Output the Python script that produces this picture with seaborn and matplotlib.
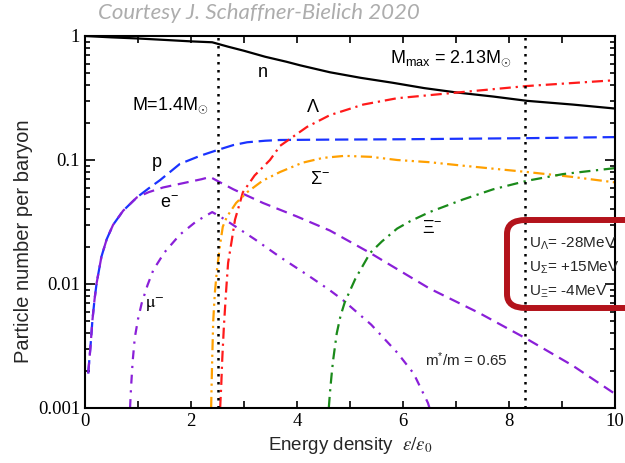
import numpy as np
import pandas as pd
import matplotlib
matplotlib.use("Agg")
import matplotlib.pyplot as plt
from matplotlib.patches import FancyBboxPatch
import seaborn as sns

# ---------------- data ----------------
n_x = [0, 0.5, 1, 1.5, 2, 2.4, 2.7, 3.0, 3.4, 3.8, 4.06, 4.62, 5.2, 5.8, 6.4, 7.02, 7.7, 8.34, 9.2, 10]
n_y = [1.0, 0.975, 0.955, 0.93, 0.905, 0.89, 0.82, 0.76, 0.68, 0.62, 0.58, 0.51, 0.46, 0.42, 0.38, 0.35, 0.325, 0.30, 0.28, 0.26]

p_x = [0.06, 0.1, 0.14, 0.18, 0.22, 0.31, 0.41, 0.53, 0.72, 0.98, 1.2, 1.42, 1.79, 2.17, 2.49, 2.8, 3.06, 3.4, 3.68, 4.62, 6.0, 8.34, 10]
p_y = [0.0019, 0.003, 0.0051, 0.0075, 0.0102, 0.0166, 0.023, 0.03, 0.039, 0.05, 0.059, 0.069, 0.093, 0.108, 0.12, 0.132, 0.139, 0.143, 0.145, 0.146, 0.147, 0.15, 0.153]

e_x = [0.06, 0.1, 0.14, 0.18, 0.22, 0.31, 0.41, 0.53, 0.72, 0.98, 1.2, 1.47, 1.92, 2.2, 2.36, 2.55, 2.8, 3.36, 4.0, 4.62, 5.38, 6.5, 7.45, 8.34, 9.2, 10]
e_y = [0.0019, 0.003, 0.0051, 0.0075, 0.0102, 0.0166, 0.023, 0.03, 0.039, 0.05, 0.055, 0.06, 0.066, 0.07, 0.073, 0.066, 0.058, 0.045, 0.035, 0.027, 0.0178, 0.0092, 0.0058, 0.0036, 0.0022, 0.0013]

mu_x = [0.85, 0.87, 0.9, 0.94, 1.0, 1.07, 1.18, 1.29, 1.5, 1.79, 2.1, 2.4, 2.55, 2.74, 3.2, 3.68, 4.2, 4.62, 4.87, 5.4, 5.89, 6.2, 6.47, 6.5]
mu_y = [0.001, 0.0015, 0.0024, 0.0037, 0.0052, 0.007, 0.0098, 0.013, 0.018, 0.025, 0.032, 0.038, 0.035, 0.031, 0.023, 0.0165, 0.0118, 0.0089, 0.0074, 0.0047, 0.0028, 0.0019, 0.0011, 0.001]

lam_x = [2.55, 2.57, 2.59, 2.62, 2.66, 2.7, 2.77, 2.83, 2.98, 3.2, 3.49, 3.68, 4.19, 4.62, 5.25, 5.89, 7.02, 8.34, 10]
lam_y = [0.001, 0.0015, 0.0025, 0.0045, 0.0085, 0.0148, 0.0226, 0.033, 0.055, 0.075, 0.1, 0.13, 0.185, 0.23, 0.28, 0.315, 0.35, 0.395, 0.44]

sig_x = [2.38, 2.39, 2.4, 2.42, 2.45, 2.49, 2.55, 2.6, 2.68, 2.85, 3.06, 3.35, 3.68, 4.1, 4.49, 4.9, 5.4, 5.89, 6.5, 7.13, 8.34, 9.2, 10]
sig_y = [0.001, 0.0016, 0.0025, 0.0051, 0.0085, 0.013, 0.021, 0.029, 0.035, 0.045, 0.055, 0.068, 0.08, 0.095, 0.104, 0.108, 0.106, 0.1, 0.096, 0.09, 0.08, 0.073, 0.066]

xi_x = [4.6, 4.62, 4.65, 4.68, 4.75, 4.82, 4.9, 5.1, 5.38, 5.6, 5.89, 6.13, 6.5, 7.13, 7.7, 8.34, 9.02, 10]
xi_y = [0.001, 0.0013, 0.0018, 0.0024, 0.004, 0.0055, 0.0071, 0.011, 0.0178, 0.022, 0.028, 0.032, 0.038, 0.048, 0.058, 0.068, 0.077, 0.086]

mass_marks = [2.5, 8.3]
x_ticks = [0, 2, 4, 6, 8, 10]
y_ticks = [0.001, 0.01, 0.1, 1]
y_tick_labels = ["0.001", "0.01", "0.1", "1"]

# ---------------- style ----------------
sns.set_style("ticks")
plt.rcParams["font.family"] = ["Liberation Sans", "DejaVu Sans"]
plt.rcParams["mathtext.fontset"] = "custom"
plt.rcParams["mathtext.rm"] = "Liberation Sans"
plt.rcParams["mathtext.it"] = "Liberation Sans:italic"
plt.rcParams["mathtext.bf"] = "Liberation Sans:bold"
plt.rcParams["xtick.direction"] = "in"
plt.rcParams["ytick.direction"] = "in"

fig = plt.figure(figsize=(6.25, 4.63), dpi=100)
ax = fig.add_axes([85 / 625, 1 - 408 / 463, 530 / 625, 372 / 463])

series = [
    (n_x, n_y, "black", "-"),
    (p_x, p_y, "#1a33ff", (0, (6, 2.6))),
    (e_x, e_y, "#8a1fd8", (0, (5, 3))),
    (mu_x, mu_y, "#8a1fd8", (0, (4, 3, 1, 3))),
    (lam_x, lam_y, "#ff1a1a", (0, (5, 2.2, 1, 2.2))),
    (sig_x, sig_y, "#ffa000", (0, (5, 2, 1, 2, 1, 2))),
    (xi_x, xi_y, "#1a8a1a", (0, (5, 2.5, 1, 2.5))),
]
for xs, ys, col, ls in series:
    sns.lineplot(x=xs, y=ys, ax=ax, color=col, linestyle=ls, lw=1.6)

for xm in mass_marks:
    ax.axvline(xm, color="black", linestyle=(0, (1, 2.2)), lw=1.8)

ax.set_yscale("log")
ax.set_xlim(0, 10)
ax.set_ylim(0.001, 1)
ax.set_xticks(x_ticks)
ax.set_xticks(range(0, 11), minor=True)
ax.set_yticks(y_ticks, labels=y_tick_labels)
ax.tick_params(which="both", top=True, right=True, width=1.2, colors="black",
               labelfontfamily="Liberation Serif", labelsize=13.5)
ax.tick_params(axis="y", which="major", length=7.5)
ax.tick_params(axis="y", which="minor", length=3.8)
ax.tick_params(axis="x", which="both", length=5)
for sp in ax.spines.values():
    sp.set_linewidth(1.5)
    sp.set_color("black")

ax.set_xlabel(r"Energy density  $\varepsilon/\varepsilon_0$", fontsize=13.5, math_fontfamily="stix")
ax.set_ylabel("Particle number per baryon", fontsize=14.5)
ax.yaxis.set_label_coords(-0.098, 0.449)

txt = dict(fontsize=13, color="black")
ax.text(3.36, 0.51, "n", ha="center", va="center", **txt)
ax.text(0.89, 0.278, r"M=1.4M$_{\odot}$", ha="left", va="center", **txt)
ax.text(4.3, 0.267, r"$\Lambda$", ha="center", va="center", **txt)
ax.text(6.9, 0.665, r"M$_{\rm max}$ = 2.13M$_{\odot}$", ha="center", va="center", **txt)
ax.text(1.36, 0.096, "p", ha="center", va="center", **txt)
ax.text(4.43, 0.069, r"$\Sigma^{-}$", ha="center", va="center", **txt)
ax.text(1.6, 0.045, r"e$^{-}$", ha="center", va="center", **txt)
ax.text(6.55, 0.028, r"$\Xi^{-}$", ha="center", va="center", **txt)
ax.text(1.32, 0.0068, r"$\mathrm{\mu}^{-}$", ha="center", va="center", math_fontfamily="stix", **txt)
ax.text(7.2, 0.00245, r"m$^{*}$/m = 0.65", ha="center", va="center", fontsize=11)

ax.text(8.37, 10 ** (-(244 - 36) / 124), r"U$_{\Lambda}$= -28MeV", ha="left", va="center", fontsize=11)
ax.text(8.37, 10 ** (-(268 - 36) / 124), r"U$_{\Sigma}$= +15MeV", ha="left", va="center", fontsize=11)
ax.text(8.37, 10 ** (-(292 - 36) / 124), r"U$_{\Xi}$= -4MeV", ha="left", va="center", fontsize=11)

box = FancyBboxPatch((507 / 625, 1 - 308 / 463), 0.22, 88 / 463,
                     boxstyle="round,pad=0,rounding_size=0.03",
                     transform=fig.transFigure, facecolor="none",
                     edgecolor="#b3131b", lw=4.3, clip_on=False)
fig.patches.append(box)

fig.text(98 / 625, 1 - 13 / 463, "Courtesy J. Schaffner-Bielich 2020", fontsize=16,
         style="italic", color="#adadad", family="Lato", ha="left", va="center")

fig.savefig("out.png", dpi=100)
